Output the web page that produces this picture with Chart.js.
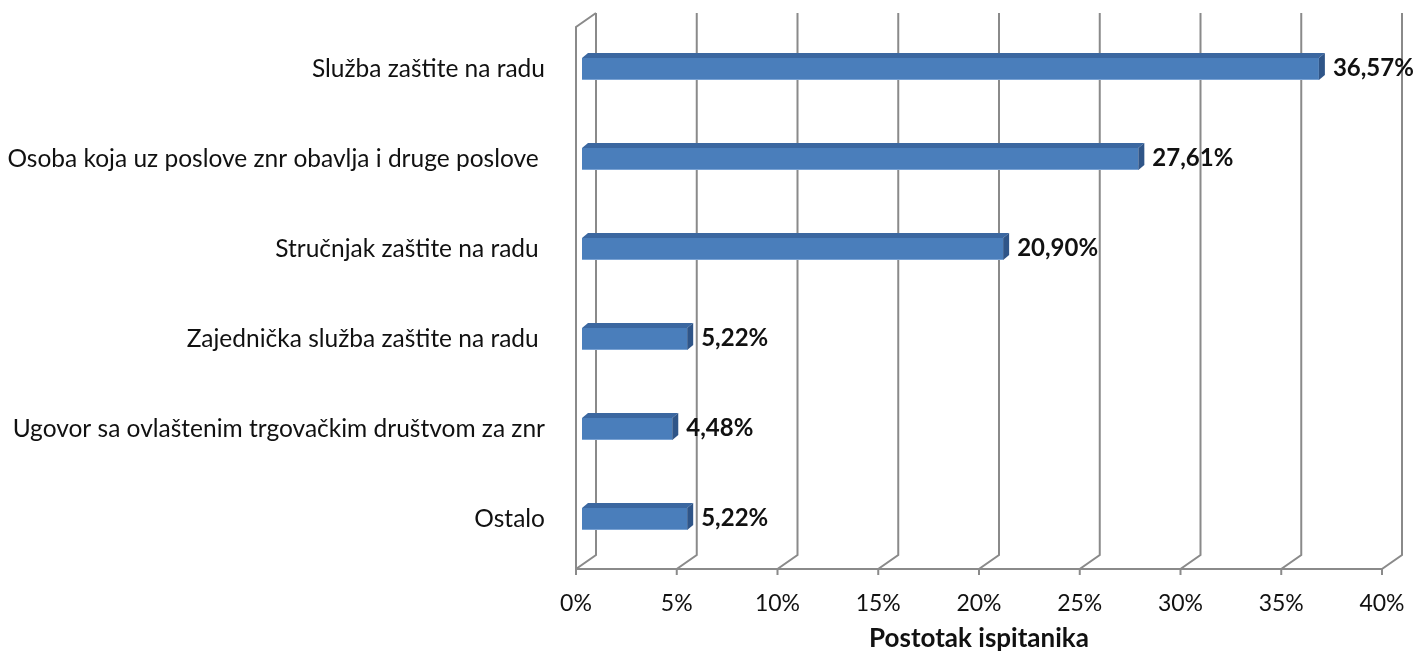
<!DOCTYPE html>
<html>
<head>
<meta charset="utf-8">
<script src="https://cdn.jsdelivr.net/npm/chart.js@4"></script>
<style>
  body { margin: 0; background: #fff; }
  #wrap { width: 1415px; height: 656px; }
</style>
</head>
<body>
<div id="wrap"><canvas id="myChart" width="1415" height="656"></canvas></div>
<script>
// data
const categories = [
  'Služba zaštite na radu',
  'Osoba koja uz poslove znr obavlja i druge poslove ',
  'Stručnjak zaštite na radu ',
  'Zajednička služba zaštite na radu ',
  'Ugovor sa ovlaštenim trgovačkim društvom za znr',
  'Ostalo'
];
const percentages = [36.57, 27.61, 20.90, 5.22, 4.48, 5.22];
const xTicks = [0, 5, 10, 15, 20, 25, 30, 35, 40];
const axisTitle = 'Postotak ispitanika';

const FONT = 'Lato';
const gridColor = '#8a8a8a';
const DX = 20, DY = 14;      // depth of the 3D box
const BX = 6, BY = 5;        // depth of the bars

// draws the 3D walls/floor behind the bars
const walls = {
  id: 'walls',
  beforeDatasetsDraw(chart) {
    const ctx = chart.ctx;
    const xs = chart.scales.x;
    const top = chart.chartArea.top - 11;
    const floor = chart.chartArea.bottom + 5;
    ctx.save();
    ctx.strokeStyle = gridColor;
    ctx.lineWidth = 2;
    xTicks.forEach(t => {
      const px = xs.getPixelForValue(t);
      ctx.beginPath();
      ctx.moveTo(px + DX, top);
      ctx.lineTo(px + DX, floor - DY);
      ctx.lineTo(px, floor);
      ctx.lineTo(px, floor + 6);
      ctx.stroke();
    });
    const x0 = xs.getPixelForValue(0);
    const x40 = xs.getPixelForValue(40);
    ctx.beginPath();
    ctx.moveTo(x0, floor);
    ctx.lineTo(x40, floor);
    ctx.stroke();
    ctx.beginPath();
    ctx.moveTo(x0 + DX, top);
    ctx.lineTo(x0, top + DY);
    ctx.lineTo(x0, floor);
    ctx.stroke();
    ctx.restore();
  },
  afterDatasetsDraw(chart) {
    const ctx = chart.ctx;
    const xs = chart.scales.x;
    const meta = chart.getDatasetMeta(0);
    ctx.save();
    meta.data.forEach((el, i) => {
      const v = percentages[i];
      const x0 = xs.getPixelForValue(0) + BX;
      const x1 = xs.getPixelForValue(v) + BX;
      const h = 11;
      const y = el.y;
      // front
      ctx.fillStyle = '#4a7ebb';
      ctx.fillRect(x0, y - h, x1 - x0, 2 * h);
      ctx.fillStyle = '#7aa3d4';
      ctx.fillRect(x0, y + h - 1, x1 - x0, 1);
      // top
      ctx.fillStyle = '#3b67a0';
      ctx.beginPath();
      ctx.moveTo(x0, y - h);
      ctx.lineTo(x0 + BX, y - h - BY);
      ctx.lineTo(x1 + BX, y - h - BY);
      ctx.lineTo(x1, y - h);
      ctx.closePath();
      ctx.fill();
      // side
      ctx.fillStyle = '#2f5588';
      ctx.beginPath();
      ctx.moveTo(x1, y - h);
      ctx.lineTo(x1 + BX, y - h - BY);
      ctx.lineTo(x1 + BX, y + h - BY);
      ctx.lineTo(x1, y + h);
      ctx.closePath();
      ctx.fill();
      // value label
      ctx.fillStyle = '#111';
      ctx.font = 'bold 24px ' + FONT;
      ctx.textAlign = 'left';
      ctx.textBaseline = 'middle';
      ctx.fillText(v.toFixed(2).replace('.', ',') + '%', x1 + BX + 8, y - 1);
    });
    ctx.restore();
  }
};

const ctx = document.getElementById('myChart').getContext('2d');
const myChart = new Chart(ctx, {
  type: 'bar',
  data: {
    labels: categories,
    datasets: [{
      data: percentages,
      backgroundColor: 'rgba(0,0,0,0)',
      barThickness: 22
    }]
  },
  options: {
    responsive: false,
    animation: false,
    indexAxis: 'y',
    layout: { padding: { top: 24, right: 33, bottom: 0, left: 0 } },
    plugins: { legend: { display: false }, tooltip: { enabled: false } },
    scales: {
      x: {
        min: 0, max: 40,
        afterBuildTicks(s) { s.ticks = xTicks.map(v => ({ value: v })); },
        ticks: { callback: v => v + '%', padding: 18, color: '#111', font: { family: FONT, size: 23 } },
        grid: { display: false },
        border: { display: false },
        title: { display: true, text: axisTitle, color: '#111', font: { family: FONT, size: 26, weight: 'bold' }, padding: { top: 0, bottom: 2 } },
        afterFit(s) { s.height = 92; s.paddingLeft = 0; s.paddingRight = 0; }
      },
      y: {
        grid: { display: false },
        border: { display: false },
        ticks: { padding: 23, color: '#111', font: { family: FONT, size: 24.5 } },
        afterFit(s) { s.width = 576; s.paddingTop = 0; s.paddingBottom = 0; }
      }
    }
  },
  plugins: [walls]
});
</script>
</body>
</html>
